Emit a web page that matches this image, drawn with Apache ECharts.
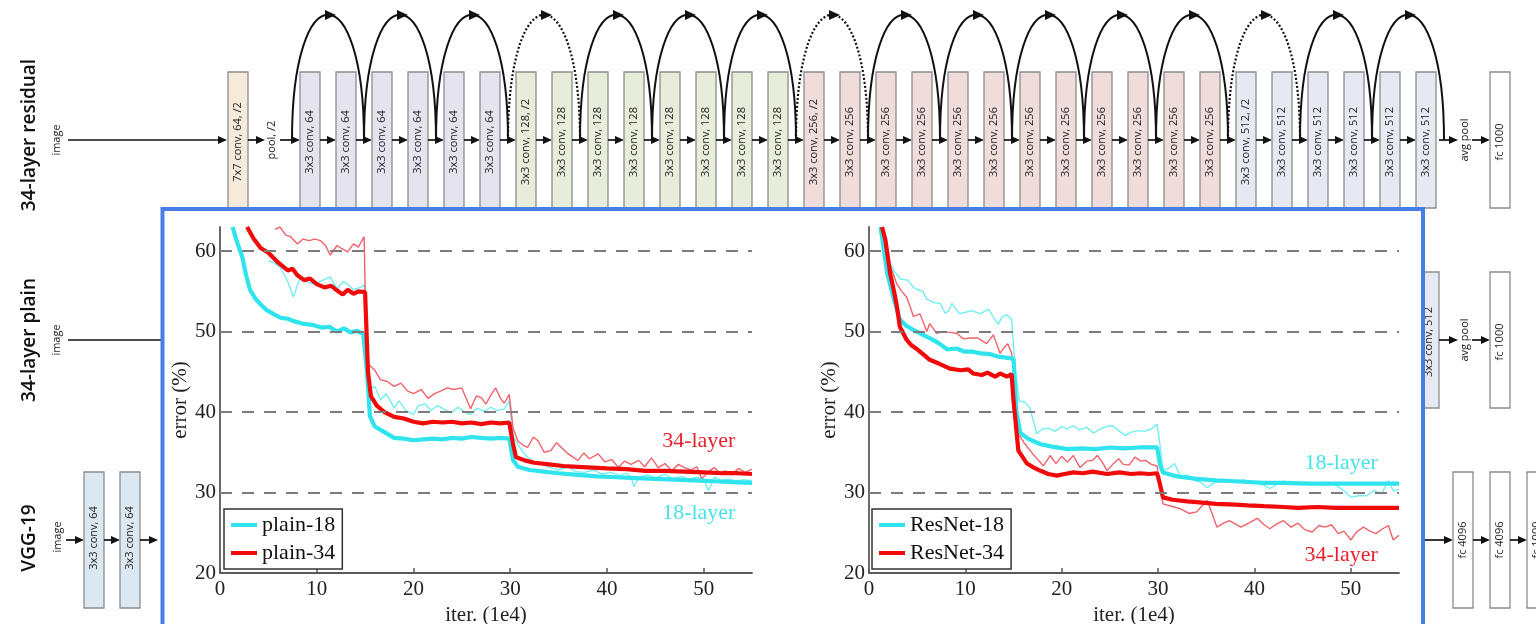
<!DOCTYPE html>
<html>
<head>
<meta charset="utf-8">
<script src="https://cdn.jsdelivr.net/npm/echarts@6/dist/echarts.min.js"></script>
<style>
html, body { margin: 0; padding: 0; background: #fff; }
#main { width: 1536px; height: 624px; }
</style>
</head>
<body>
<div id="main"></div>
<script>
// ---- data: [iter (1e4), error (%)] ----
var plain18Train = [[5,58.8],[5.5,58.6],[6.2,58],[6.9,56.5],[7.6,54.3],[8.3,56.8],[9,56.2],[9.7,55.9],[10.5,56.3],[11.4,56.8],[12.1,55.3],[12.7,56.2],[13.2,55.9],[13.8,55.2],[14.5,55.5],[14.9,55.8],[15.1,48],[15.4,42.8],[16,43.2],[16.6,41.5],[17.2,42.3],[18,40.5],[18.5,41.4],[19.2,40.2],[20,39.7],[20.5,40.8],[21.2,41],[21.8,40.2],[22.5,40.8],[23.1,40.4],[23.9,39.9],[24.6,40.6],[25.3,40],[25.9,39.7],[26.6,40.5],[27.3,40.1],[28,40.6],[28.6,40.2],[29.4,40.4],[29.9,41.4],[30.3,37],[30.6,36.4],[31.2,35.2],[31.8,34.4],[32.5,33.8],[33.3,33.5],[34.2,33.1],[35,32.8],[36,33.2],[36.8,32.6],[37.7,32.5],[38.6,32.8],[39.5,32.3],[40.4,32.5],[41.3,32.1],[42,32.4],[42.5,31.9],[42.8,30.7],[43.3,31.9],[44.2,32.2],[45,31.8],[46,32.3],[46.8,31.7],[47.7,32],[48.5,31.6],[49.3,31.9],[50,31.7],[50.5,30.2],[51.1,31.9],[51.8,31.5],[52.6,31.7],[53.4,31.4],[54.2,31.6],[55,31.4]];
var plain34Train = [[5.7,62.7],[6.2,63],[6.8,62],[7.3,61.8],[8,60.9],[8.6,61.5],[9.2,61.3],[9.8,61.5],[10.4,61.3],[10.9,60.7],[11.4,59.5],[12.1,60.7],[12.6,60.3],[13.2,59.9],[13.8,60.9],[14.3,60.5],[14.9,61.8],[15.1,50],[15.3,46],[16,45.2],[16.6,44],[17.3,43.8],[18,43.2],[18.7,43.6],[19.4,42.6],[20,42.3],[20.8,42.8],[21.5,41.7],[22.2,42.3],[22.8,42.6],[23.5,43],[24.2,42.8],[25,43],[25.9,40.4],[26.5,42],[27,41.8],[27.5,41],[28,42.1],[28.5,43],[29,41.7],[29.4,41.1],[29.9,42.2],[30.3,38],[30.8,36.4],[31.3,35.9],[31.8,35.6],[32.4,36.9],[32.9,36.4],[33.5,35],[34.2,35.2],[34.8,36.2],[35.3,35.6],[36,34.8],[37,34],[37.6,34.9],[38.2,34.2],[39.1,34.8],[39.8,33.8],[40.5,34.1],[41.2,33.1],[41.8,33.9],[42.5,33.5],[43.3,34],[43.9,33.2],[44.6,34.3],[45.3,33.1],[46,33.6],[46.7,32.7],[47.4,33.5],[48,33.1],[48.7,32.8],[49.3,33.2],[49.8,31.7],[50.5,32.6],[51.1,33.1],[51.7,32.4],[52.2,32.7],[52.9,32.2],[53.6,33],[54.3,32.5],[55,32.9]];
var plain18Val = [[1.3,63],[1.8,61],[2.3,59.3],[2.7,57],[3.1,55.2],[3.6,54.2],[4.1,53.5],[4.8,52.7],[5.5,52.2],[6.3,51.7],[7,51.6],[7.6,51.3],[8.5,51],[9.7,50.8],[10.5,50.5],[11.3,50.6],[12.1,50],[12.8,50.4],[13.5,49.9],[14.2,50.1],[14.8,49.7],[15.2,45],[15.5,39.5],[16,38.2],[17,37.5],[18,36.8],[19,36.7],[20,36.5],[21,36.6],[22,36.7],[23,36.6],[24,36.8],[25,36.7],[26,36.9],[27,36.8],[28,36.7],[29,36.8],[29.9,36.7],[30.3,34],[30.8,33.2],[32,32.8],[33.5,32.6],[35,32.4],[37,32.2],[39,32],[41,31.9],[43,31.8],[45,31.7],[47,31.6],[49,31.5],[51,31.4],[53,31.3],[55,31.2]];
var plain34Val = [[2.8,63],[3.5,61.5],[4.2,60.4],[5,59.8],[6,58.6],[7,57.6],[7.5,57.8],[8,57],[8.7,56.4],[9.3,56.6],[10,55.9],[10.8,55.5],[11.5,55.7],[12,55.2],[12.7,54.6],[13.2,55.2],[13.8,54.7],[14.3,55],[15,54.9],[15.3,45],[15.6,42],[16.2,40.8],[17,40],[18,39.4],[19,39.2],[20,38.8],[21,38.6],[22,38.8],[23,38.7],[24,38.8],[25,38.6],[26,38.7],[27,38.5],[28,38.7],[29,38.6],[29.9,38.7],[30.3,36],[30.6,34.4],[31.5,34],[32.5,33.7],[34,33.5],[35.5,33.3],[37,33.2],[38.5,33.1],[40,33],[42,32.9],[44,32.7],[46,32.7],[48,32.6],[50,32.5],[52,32.4],[53.5,32.4],[55,32.3]];

var res18Train = [[1.9,59.3],[2.6,57.5],[3.3,56.5],[4.05,56.4],[4.6,55.5],[5.1,55.2],[5.6,55],[6,54],[6.7,53.6],[7.4,53.5],[7.9,52.3],[8.3,52.6],[8.6,53.5],[9.4,52.2],[10,52.4],[10.7,52.6],[11.5,52.2],[12.4,52.8],[12.9,51.8],[13.4,50.9],[13.8,51.8],[14.3,52.1],[14.8,51.5],[15.2,45],[15.6,41.4],[16.2,41.2],[16.7,40.5],[17.4,37.3],[18,37.9],[18.6,38],[19.3,37.6],[20,38.2],[20.6,37.9],[21.2,38.3],[21.8,37.8],[22.6,38.1],[23.3,37.4],[24,37.9],[24.6,38.2],[25.3,38.3],[26,37.6],[26.6,37.1],[27.2,37.5],[28,37.7],[28.6,37.6],[29.3,37.9],[29.9,38.5],[30.3,35],[30.5,32.7],[31.2,33.1],[31.7,33.6],[32.1,32.6],[32.3,31.9],[33,32.2],[33.8,31.5],[34.4,31.3],[35.1,30.6],[35.8,31.2],[36.5,31.4],[37.3,31.5],[38,31.2],[38.8,31.6],[39.6,31.3],[40.4,31.1],[41,30.9],[41.6,30.5],[42.3,31],[43,31.4],[43.8,31.2],[44.6,31],[45.4,31.3],[46.2,31.1],[47,30.9],[47.9,31.1],[48.6,30.8],[49.3,30.2],[50,29.4],[50.8,29.6],[51.6,29.6],[52.4,30.2],[53.2,29.9],[53.9,31.5],[54.4,30.2],[55,30.4]];
var res34Train = [[1.9,59],[2.4,57.5],[2.9,55.9],[3.4,55],[3.9,54.3],[4.3,53],[4.6,51.9],[5.3,52.2],[6,50],[6.3,51],[7,49.8],[7.7,50],[8.4,49.9],[9.1,49.8],[9.8,49.1],[10.5,49.2],[11.3,49.2],[12.2,48.5],[12.9,49.6],[13.6,47.3],[14,48],[14.4,48.5],[14.8,47.3],[15.1,44],[15.5,37.3],[16.2,36],[17,34.8],[17.6,34],[18.1,33.3],[18.8,34.6],[19.4,33.6],[20,34.5],[20.6,33.8],[21.2,34.6],[21.9,33.1],[22.6,33.9],[23.2,34],[23.7,34.6],[24.3,33.6],[24.7,32.7],[25.3,33.5],[25.9,34.2],[26.4,33.5],[27,33.4],[27.6,34.4],[28.2,33.9],[28.7,34],[29.3,33.5],[29.9,33.3],[30.3,30],[30.5,28.6],[31.4,28.3],[32.3,28],[33.2,27.4],[34,27.6],[34.6,28.4],[35.1,29],[35.6,27.4],[36.1,25.7],[36.8,26.2],[37.4,26.5],[38,26.1],[38.6,25.7],[39.4,26.2],[40.3,26.8],[41,26],[41.6,25.5],[42.3,26.1],[43,26.5],[43.8,25.7],[44.5,26.2],[45.2,25.4],[46,25.1],[46.7,25.9],[47.3,25.7],[48,26],[48.7,24.9],[49.3,25.2],[50,24.1],[50.6,25.1],[51.3,25.7],[52,25.2],[52.6,24.9],[53.3,25.5],[53.9,25.9],[54.4,24.1],[55,24.7]];
var res18Val = [[1.2,63],[1.9,57.2],[2.7,53.5],[3.2,51.5],[3.8,50.8],[4.6,50.2],[5.6,49.6],[6.6,49],[7.3,48.5],[8.1,47.8],[9.1,47.9],[9.9,47.5],[10.8,47.5],[11.6,47.3],[12.6,47.2],[13.4,46.9],[14.6,46.7],[15,46.6],[15.3,40],[15.7,37.4],[16.5,36.7],[17.8,36],[19,35.7],[20.6,35.4],[22,35.5],[23.5,35.4],[25,35.6],[26.5,35.5],[28,35.6],[29.9,35.6],[30.2,33.5],[30.5,32.5],[32,32],[34,31.7],[36,31.5],[38,31.4],[40.9,31.2],[43,31.2],[45.5,31.1],[47.9,31.1],[50,31.1],[52.5,31.1],[55,31.1]];
var res34Val = [[1.35,63],[1.7,61.4],[2.2,57.2],[2.6,55],[2.9,53.1],[3.2,50.6],[3.9,49],[4.4,48.3],[5,47.8],[5.7,47.1],[6.3,46.5],[7.3,46],[8.4,45.4],[9.5,45.2],[10.3,45.3],[10.8,44.8],[11.7,44.6],[12.3,44.9],[12.6,44.7],[13.1,44.4],[13.6,44.8],[14.3,44.4],[14.8,44.7],[15,41.4],[15.5,35.2],[16,34.3],[16.4,33.6],[17.1,33.1],[17.8,32.7],[18.6,32.3],[19.5,32.1],[20.3,32.3],[21.2,32.5],[22.2,32.4],[23.2,32.6],[24.7,32.3],[26,32.5],[27.2,32.3],[28.1,32.4],[29.1,32.3],[29.9,32.4],[30.2,31],[30.5,29.4],[31.5,29.1],[33,28.9],[34,28.8],[36,28.6],[38,28.5],[39.3,28.4],[41,28.3],[43,28.2],[44.5,28.1],[46.5,28.2],[48.5,28.1],[50.5,28.1],[52.5,28.1],[55,28.1]];

var xTicks = [0, 10, 20, 30, 40, 50];
var yTicks = [20, 30, 40, 50, 60];
var gridLines = [30, 40, 50, 60];
var legendPlain = ['plain-18', 'plain-34'];
var legendRes = ['ResNet-18', 'ResNet-34'];

var SERIF = 'Liberation Serif';
var CYAN = '#2fe4ec', CYAN_T = '#72eef2', RED = '#f00a0a', RED_T = '#f0626c';

// ---- background: network diagram ----
var g = [];
var DZ = -20;
function vtext(x, y, t, size, color, weight) {
    g.push({type: 'text', z: DZ + 1, x: x, y: y, rotation: Math.PI / 2,
        style: {text: t, font: (weight || 'normal') + ' ' + size + 'px "Open Sans"', fill: color || '#222', align: 'center', verticalAlign: 'middle'}});
}
function box(x, y, w, h, fill, label, cy) {
    g.push({type: 'rect', z: DZ, shape: {x: x, y: y, width: w, height: h},
        style: {fill: fill, stroke: '#8c8c8c', lineWidth: 1.3}});
    if (label) vtext(x + w / 2, cy + 2, label, 11);
}
function arrow(x1, x2, y) {
    g.push({type: 'line', z: DZ, shape: {x1: x1, y1: y, x2: x2 - 5, y2: y}, style: {stroke: '#111', lineWidth: 1.7}});
    g.push({type: 'polygon', z: DZ, shape: {points: [[x2 - 9, y - 4], [x2, y], [x2 - 9, y + 4]]}, style: {fill: '#111'}});
}

// row 1: 34-layer residual
vtext(30, 135, '34-layer residual', 19, '#111', 600);
vtext(57, 140, 'image', 11);
arrow(68, 227, 140);
box(228, 72, 20, 136, '#f6eadb', '7x7 conv, 64, /2', 140);
arrow(248, 265, 140);
vtext(272, 140, 'pool, /2', 11);
arrow(280, 300, 140);
var resFill = ['#e5e3ed', '#e8ecdb', '#f1dcdc', '#e6e9f2'];
for (var i = 0; i < 32; i++) {
    var grp = i < 6 ? 0 : (i < 14 ? 1 : (i < 26 ? 2 : 3));
    var ch = [64, 128, 256, 512][grp];
    var lab = '3x3 conv, ' + ch + ((i === 6 || i === 14 || i === 26) ? ', /2' : '');
    box(300 + 36 * i, 72, 20, 136, resFill[grp], lab, 140);
    if (i < 31) arrow(320 + 36 * i, 336 + 36 * i, 140);
}
var dottedArcs = [3, 7, 13];
for (var k = 0; k < 16; k++) {
    var a0 = 292 + 72 * k, a1 = a0 + 72, m = a0 + 36;
    var dotted = dottedArcs.indexOf(k) >= 0;
    g.push({type: 'bezierCurve', z: DZ + 2,
        shape: {x1: a0, y1: 140, cpx1: a0, cpy1: -27, cpx2: a1, cpy2: -27, x2: a1, y2: 140},
        style: {stroke: '#111', fill: 'none', lineWidth: dotted ? 2.2 : 2, lineDash: dotted ? [2, 2] : null}});
    g.push({type: 'polygon', z: DZ + 2, shape: {points: [[m - 3, 10], [m + 8, 15], [m - 3, 20]]}, style: {fill: '#111'}});
}
arrow(1439, 1458, 140);
vtext(1465, 140, 'avg pool', 11);
arrow(1472, 1490, 140);
box(1490, 72, 20, 136, '#fff', 'fc 1000', 140);

// row 2: 34-layer plain
vtext(30, 340, '34-layer plain', 19, '#111', 600);
vtext(57, 340, 'image', 11);
g.push({type: 'line', z: DZ, shape: {x1: 68, y1: 340, x2: 200, y2: 340}, style: {stroke: '#111', lineWidth: 1.7}});
box(1419, 272, 20, 136, '#e6e9f2', '3x3 conv, 512', 340);
arrow(1439, 1458, 340);
vtext(1465, 340, 'avg pool', 11);
arrow(1472, 1490, 340);
box(1490, 272, 20, 136, '#fff', 'fc 1000', 340);

// row 3: VGG-19
vtext(30, 538, 'VGG-19', 19, '#111', 600);
vtext(58, 537, 'image', 11);
arrow(66, 84, 540);
box(84, 472, 20, 136, '#dbe8f1', '3x3 conv, 64', 536);
arrow(104, 120, 540);
box(120, 472, 20, 136, '#dbe8f1', '3x3 conv, 64', 536);
arrow(140, 158, 540);
arrow(1425, 1453, 540);
box(1453, 472, 20, 136, '#fff', 'fc 4096', 538);
arrow(1473, 1490, 540);
box(1490, 472, 20, 136, '#fff', 'fc 4096', 538);
arrow(1510, 1527, 540);
box(1527, 472, 20, 136, '#fff', 'fc 1000', 538);

// blue framed panel holding the two plots
g.push({type: 'rect', z: -10, shape: {x: 162.5, y: 209, width: 1260.5, height: 440},
    style: {fill: '#fff', stroke: '#477ee3', lineWidth: 4}});

// ---- charts ----
var myChart = echarts.init(document.getElementById('main'));

function xAxisOf(idx) {
    return {
        type: 'value', gridIndex: idx, min: 0, max: 55, interval: 10,
        axisLine: {lineStyle: {color: '#5a5a5a', width: 1.8}},
        axisTick: {inside: true, length: 5, customValues: xTicks, lineStyle: {color: '#5a5a5a', width: 1.5}},
        axisLabel: {customValues: xTicks, color: '#222', fontFamily: SERIF, fontSize: 21, margin: 6},
        splitLine: {show: false},
        name: 'iter. (1e4)', nameLocation: 'middle', nameGap: 26,
        nameTextStyle: {color: '#222', fontFamily: SERIF, fontSize: 21}
    };
}
function yAxisOf(idx) {
    return {
        type: 'value', gridIndex: idx, min: 20, max: 63, interval: 10,
        axisLine: {show: true, lineStyle: {color: '#6a6a6a', width: 2}},
        axisTick: {show: true, inside: true, length: 5, customValues: gridLines, lineStyle: {color: '#5a5a5a', width: 1.5}},
        axisLabel: {customValues: yTicks, color: '#222', fontFamily: SERIF, fontSize: 21, margin: 4},
        splitLine: {show: false},
        name: 'error (%)', nameLocation: 'middle', nameGap: 24,
        nameTextStyle: {color: '#222', fontFamily: SERIF, fontSize: 21}
    };
}
function line(name, idx, data, color, width, extra) {
    var s = {
        type: 'line', name: name, xAxisIndex: idx, yAxisIndex: idx, data: data,
        symbol: 'none', showSymbol: false, color: color, silent: true, clip: true,
        itemStyle: {color: color}, lineStyle: {color: color, width: width}
    };
    for (var key in extra) s[key] = extra[key];
    return s;
}
var dashes = {
    silent: true, symbol: 'none', label: {show: false},
    lineStyle: {type: [12, 10], color: '#7c7c7c', width: 1.8},
    data: gridLines.map(function (v) { return {yAxis: v}; })
};
function tag(text, color, coord) {
    return {
        symbol: 'rect', symbolSize: 1, silent: true, itemStyle: {color: 'rgba(0,0,0,0)'},
        label: {show: true, position: 'inside', formatter: text, color: color, fontFamily: SERIF, fontSize: 22},
        data: [{coord: coord}]
    };
}
function legendOf(names, left) {
    return {
        data: names, left: left, top: 509, orient: 'vertical', icon: 'rect',
        itemWidth: 26, itemHeight: 4, itemGap: 2, padding: [3, 7, 3, 7],
        borderColor: '#333', borderWidth: 1.5, backgroundColor: '#fff', selectedMode: false,
        textStyle: {fontFamily: SERIF, fontSize: 22, color: '#111', lineHeight: 26}
    };
}

var option = {
    backgroundColor: '#fff',
    animation: false,
    graphic: {elements: g},
    grid: [
        {left: 220, top: 227, width: 532, height: 346, outerBoundsMode: 'none'},
        {left: 869, top: 227, width: 530, height: 346, outerBoundsMode: 'none'}
    ],
    xAxis: [xAxisOf(0), xAxisOf(1)],
    yAxis: [yAxisOf(0), yAxisOf(1)],
    legend: [legendOf(legendPlain, 224), legendOf(legendRes, 872)],
    series: [
        line('plain-18 train', 0, plain18Train, CYAN_T, 1.4, {markLine: dashes}),
        line('plain-34 train', 0, plain34Train, RED_T, 1.4),
        line('plain-18', 0, plain18Val, CYAN, 4.2, {markPoint: tag('18-layer', '#45e2ea', [49.5, 27.4])}),
        line('plain-34', 0, plain34Val, RED, 4.2, {markPoint: tag('34-layer', '#e8202c', [49.5, 36.4])}),
        line('ResNet-18 train', 1, res18Train, CYAN_T, 1.4, {markLine: dashes}),
        line('ResNet-34 train', 1, res34Train, RED_T, 1.4),
        line('ResNet-18', 1, res18Val, CYAN, 4.2, {markPoint: tag('18-layer', '#45e2ea', [49, 33.7])}),
        line('ResNet-34', 1, res34Val, RED, 4.2, {markPoint: tag('34-layer', '#e8202c', [49, 22.2])})
    ]
};

myChart.setOption(option);
</script>
</body>
</html>
